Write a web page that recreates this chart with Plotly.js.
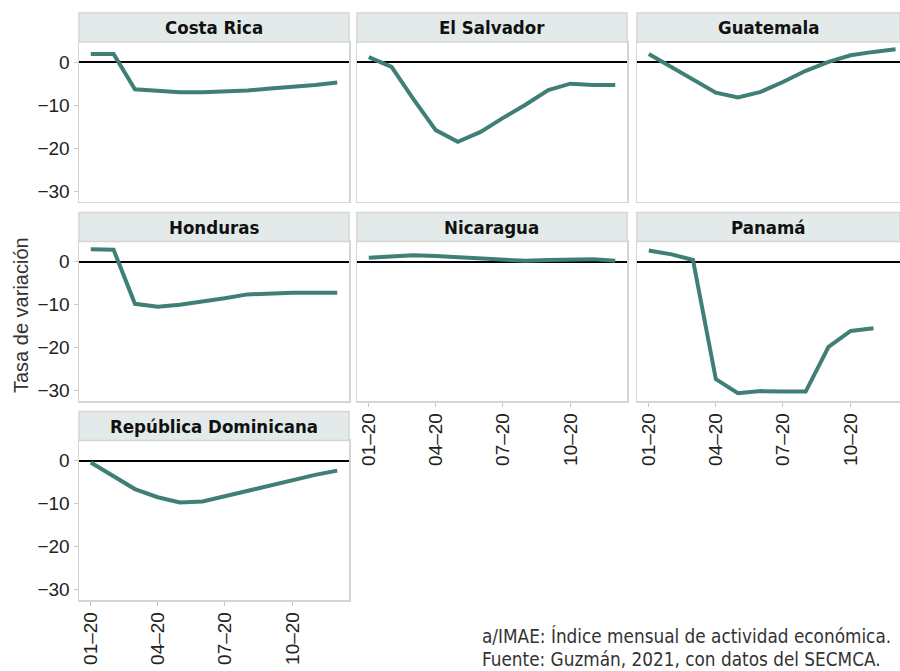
<!DOCTYPE html>
<html>
<head>
<meta charset="utf-8">
<script src="https://cdn.plot.ly/plotly-3.0.1.min.js"></script>
<style>html,body{margin:0;padding:0;background:#fff;}#chart{width:900px;height:671px;}</style>
</head>
<body>
<div id="chart"></div>
<script>
// ---- data ----
const months = ["2020-01-01","2020-02-01","2020-03-01","2020-04-01","2020-05-01","2020-06-01",
                "2020-07-01","2020-08-01","2020-09-01","2020-10-01","2020-11-01","2020-12-01"];
const countries = ["Costa Rica","El Salvador","Guatemala","Honduras","Nicaragua","Panamá","República Dominicana"];
const costaRica  = [1.9, 1.9, -6.3, -6.7, -7.0, -7.0, -6.9, -6.6, -6.1, -5.8, -5.3, -4.7];
const elSalvador = [1.2, -1.1, -8.4, -15.8, -18.5, -16.2, -13.0, -9.9, -6.5, -5.0, -5.3, -5.3];
const guatemala  = [1.9, -1.1, -4.1, -7.1, -8.2, -6.9, -4.6, -2.0, 0.1, 1.6, 2.4, 3.0];
const honduras   = [2.9, 2.8, -9.8, -10.5, -10.0, -9.3, -8.5, -7.6, -7.3, -7.2, -7.2, -7.2];
const nicaragua  = [0.9, 1.3, 1.5, 1.3, 1.0, 0.6, 0.3, 0.2, 0.4, 0.5, 0.6, 0.2];
const panama     = [2.6, 1.7, 0.4, -27.3, -30.6, -30.1, -30.2, -30.2, -19.8, -16.1, -15.5, null];
const repDom     = [-0.4, -3.5, -6.6, -8.5, -9.7, -9.5, -8.3, -6.9, -5.6, -4.4, -3.3, -2.3];
const series = [costaRica, elSalvador, guatemala, honduras, nicaragua, panama, repDom];

const xTickVals = ["2020-01-01","2020-04-01","2020-07-01","2020-10-01"];
const xTickText = ["01–20","04–20","07–20","10–20"];
const yTickVals = [0, -10, -20, -30];
const yTitle = "Tasa de variación";
const notes = ["a/IMAE: Índice mensual de actividad económica.", "Fuente: Guzmán, 2021, con datos del SECMCA."];

// ---- layout geometry ----
const W = 900, H = 671;
const colX = [[79, 349], [357, 627], [637, 900]];
const colRange = [["2019-12-16","2020-12-17"],["2019-12-16","2020-12-17"],["2019-12-16","2020-12-07"]];
const rowY = [[42, 201.5], [241.5, 401], [440.5, 600]]; // plot top, bottom (px)
const pos = [[0,0],[0,1],[0,2],[1,0],[1,1],[1,2],[2,0]]; // [row, col]
const showX = [false,false,false,false,true,true,true];
const lineColor = "#3f7f76";
const borderColor = "#d5d5d5";
const stripFill = "#e3eae9";
const stripH = 29;
const tickFont = {family: "Liberation Sans, Arial, sans-serif", size: 19, color: "#222"};
const condFont = "DejaVu Sans Condensed, sans-serif";

const traces = [];
const layout = {
  width: W, height: H,
  margin: {l:0, r:0, t:0, b:0},
  paper_bgcolor: "#fff", plot_bgcolor: "#fff",
  showlegend: false,
  shapes: [], annotations: []
};

countries.forEach((name, i) => {
  const [r, c] = pos[i];
  const sfx = i === 0 ? "" : String(i + 1);
  traces.push({
    type: "scatter", mode: "lines",
    x: months, y: series[i],
    xaxis: "x" + sfx, yaxis: "y" + sfx,
    line: {color: lineColor, width: 4},
    connectgaps: false, hoverinfo: "x+y"
  });
  const xd = [colX[c][0] / W, colX[c][1] / W];
  const yd = [1 - rowY[r][1] / H, 1 - rowY[r][0] / H];
  layout["xaxis" + sfx] = {
    domain: xd, type: "date", range: colRange[c],
    tickvals: xTickVals, ticktext: xTickText, tickangle: -90,
    showticklabels: showX[i], ticks: showX[i] ? "outside" : "",
    ticklen: 4, tickcolor: "#c8c8c8", tickfont: tickFont, ticklabelstandoff: -1,
    showgrid: false, zeroline: false,
    showline: true, mirror: true, linecolor: borderColor, linewidth: 1.5,
    anchor: "y" + sfx, fixedrange: true
  };
  layout["yaxis" + sfx] = {
    domain: yd, range: [-32.4, 4.7],
    tickvals: yTickVals,
    showticklabels: c === 0, ticks: c === 0 ? "outside" : "",
    ticklen: 4, tickcolor: "#c8c8c8", tickfont: tickFont,
    showgrid: false,
    zeroline: true, zerolinecolor: "#000", zerolinewidth: 2,
    showline: true, mirror: true, linecolor: borderColor, linewidth: 1.5,
    anchor: "x" + sfx, fixedrange: true
  };
  // strip header
  layout.shapes.push({
    type: "rect", xref: "paper", yref: "paper",
    x0: xd[0], x1: xd[1], y0: yd[1], y1: yd[1] + stripH / H,
    fillcolor: stripFill, line: {color: borderColor, width: 1.5}
  });
  layout.annotations.push({
    xref: "paper", yref: "paper",
    x: (xd[0] + xd[1]) / 2, y: yd[1] + stripH / 2 / H,
    xanchor: "center", yanchor: "middle",
    text: "<b>" + name + "</b>", showarrow: false,
    font: {family: condFont, size: 18.5, color: "#111"}
  });
});

layout.annotations.push({
  xref: "paper", yref: "paper", x: 21 / W, y: 1 - 315 / H,
  xanchor: "center", yanchor: "middle", textangle: -90,
  text: yTitle, showarrow: false,
  font: {family: "Liberation Sans, Arial, sans-serif", size: 20, color: "#333"}
});
notes.forEach((t, k) => {
  layout.annotations.push({
    xref: "paper", yref: "paper", x: 480 / W, y: 1 - (636 + 23 * k) / H,
    xanchor: "left", yanchor: "middle",
    text: t, showarrow: false,
    font: {family: condFont, size: 18.8, color: "#333"}
  });
});

Plotly.newPlot("chart", traces, layout, {displayModeBar: false, staticPlot: true});
</script>
</body>
</html>
